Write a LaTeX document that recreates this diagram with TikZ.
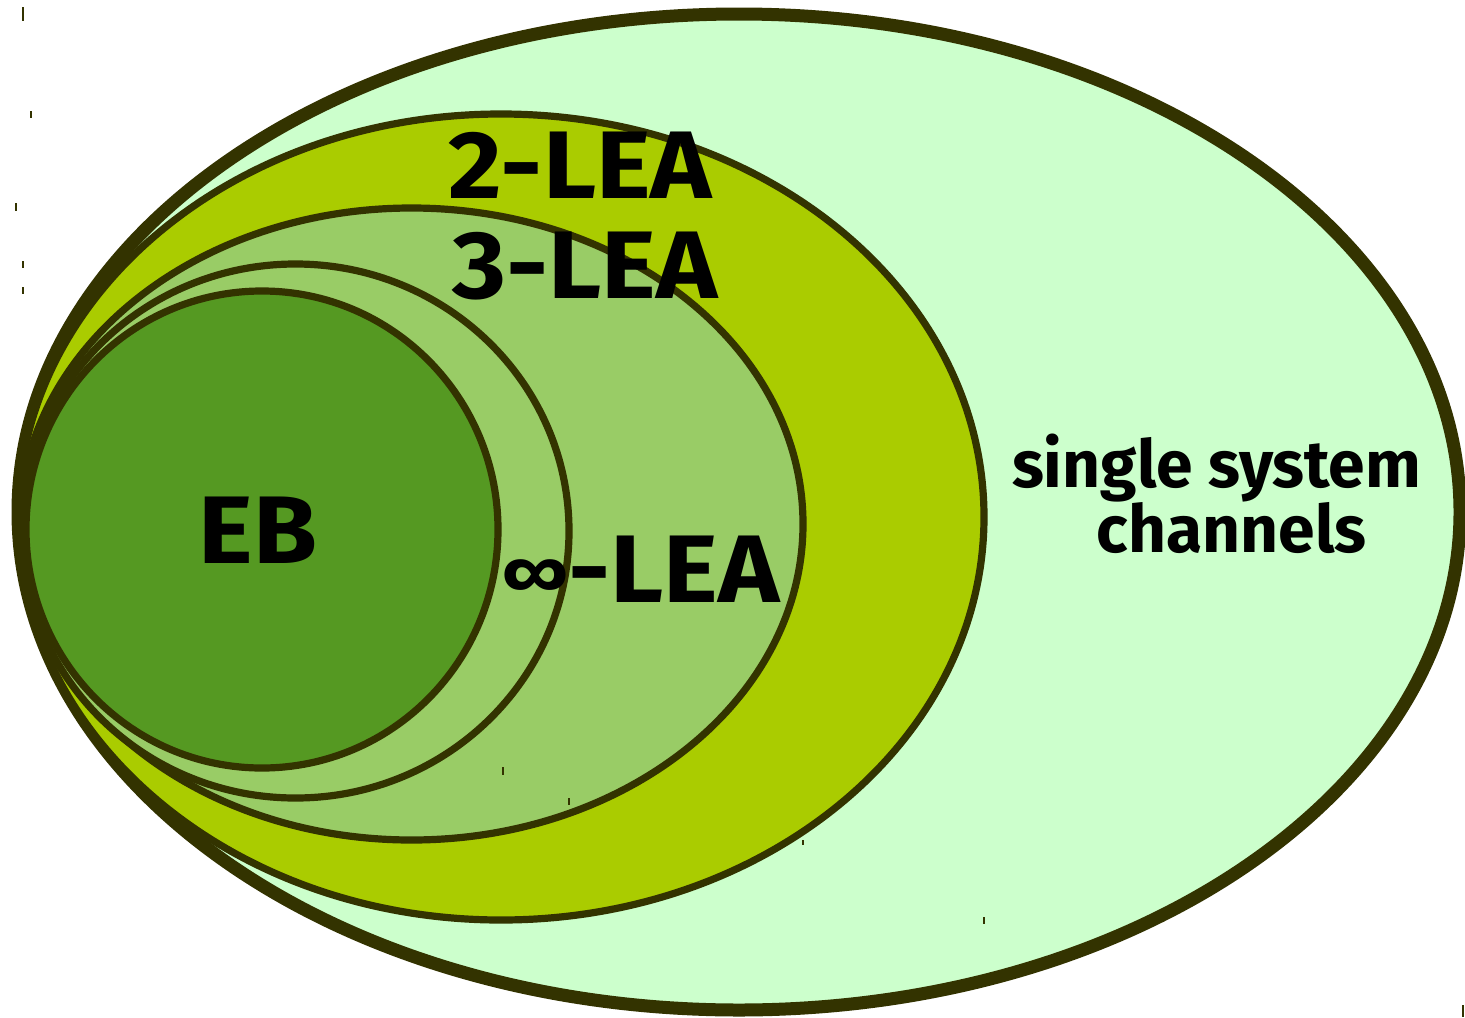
\documentclass[tikz,border=0pt]{standalone}
\usepackage{fontspec}
\setmainfont{Fira Sans}
\newfontfamily\widefira{Fira Sans}[FakeStretch=1.08]
\definecolor{edge}{HTML}{333300}
\definecolor{fillA}{HTML}{CCFFCC}
\definecolor{fillB}{HTML}{AACC00}
\definecolor{fillC}{HTML}{99CC66}
\definecolor{fillD}{HTML}{559922}
\tikzset{
  setring/.style={draw=edge, line width=3.6pt},
  outerring/.style={draw=edge, line width=6.5pt},
  biglabel/.style={font=\widefira\fontsize{48}{50}\selectfont\bfseries, inner sep=0pt, anchor=base},
  smalllabel/.style={font=\fontsize{33}{36}\selectfont\bfseries, inner sep=0pt, anchor=base},
  tick/.style={draw=edge, line width=1pt},
}
\begin{document}
\begin{tikzpicture}[x=0.5pt, y=-0.5pt]
\useasboundingbox (0,0) rectangle (1465,1017);
\begin{scope}
\clip (0,0) rectangle (1465,1017);
\path[outerring, fill=fillA] (739,512) ellipse [x radius=721, y radius=498];
\path[setring, fill=fillB] (501,517) ellipse [x radius=483, y radius=403];
\path[setring, fill=fillC] (411.5,524) ellipse [x radius=391.5, y radius=316];
\path[setring, fill=fillC] (295.5,531) ellipse [x radius=273.5, y radius=267];
\path[setring, fill=fillD] (262,529.5) ellipse [x radius=236, y radius=238.5];
\end{scope}
% small stray marks
\coordinate (t1a) at (23,7);    \coordinate (t1b) at (23,21);
\coordinate (t2a) at (31,111);  \coordinate (t2b) at (31,118);
\coordinate (t3a) at (16,203);  \coordinate (t3b) at (16,211);
\coordinate (t4a) at (23,261);  \coordinate (t4b) at (23,268);
\coordinate (t5a) at (23,287);  \coordinate (t5b) at (23,294);
\coordinate (t6a) at (503,767); \coordinate (t6b) at (503,775);
\coordinate (t7a) at (569,798); \coordinate (t7b) at (569,805);
\coordinate (t8a) at (803,840); \coordinate (t8b) at (803,845);
\coordinate (t9a) at (984,917); \coordinate (t9b) at (984,924);
\coordinate (t10a) at (1463,1005); \coordinate (t10b) at (1463,1017);
\foreach \i in {1,...,10} {\draw[tick] (t\i a) -- (t\i b);}
% labels
\node[biglabel] (two) at (580.5,198) {2-LEA};
\node[biglabel] (three) at (585,298) {3-LEA};
\node[biglabel] (inf) at (641,602) {\raisebox{3pt}{\fontsize{34}{36}\selectfont ∞}-LEA};
\node[biglabel] (eb) at (258,563) {EB};
\node[smalllabel] (ssc1) at (1216.5,487) {single system};
\node[smalllabel] (ssc2) at (1231.5,552) {channels};
\end{tikzpicture}
\end{document}
